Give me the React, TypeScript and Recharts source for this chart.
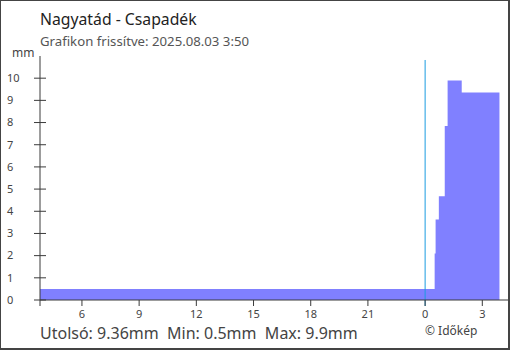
import { Area, AreaChart, ReferenceLine, XAxis, YAxis } from "recharts";

// hours since midnight of the previous day
const times = [3.8, 24.5, 24.55, 24.72, 25.03, 25.18, 25.92, 27.9];
const rain = [0.5, 2.1, 3.63, 4.68, 7.84, 9.9, 9.36, 9.36];
const xTicks = [3.8, 6, 9, 12, 15, 18, 21, 24, 27];
const yTicks = [0, 1, 2, 3, 4, 5, 6, 7, 8, 9, 10];

const data = times.map((t, i) => ({ t, v: rain[i] }));

const font = "'Noto Sans', sans-serif";
const axisColor = "#3a3a3a";

function YTick(props: any) {
  const { x, y, payload } = props;
  return (
    <g>
      <line x1={x - 6} x2={x + 6} y1={y} y2={y} stroke={axisColor} />
      <text x={x - 33} y={y} dy="0.35em" fontSize={11} fill="#444" fontFamily={font}>
        {payload.value}
      </text>
    </g>
  );
}

export default function App() {
  return (
    <div
      style={{
        position: "absolute",
        left: 0,
        top: 0,
        width: 510,
        height: 350,
        boxSizing: "border-box",
        borderTop: "1px solid #444",
        borderLeft: "1px solid #444",
        borderRight: "2px solid #444",
        borderBottom: "2px solid #444",
        background: "#fff",
        fontFamily: font,
        overflow: "hidden",
      }}
    >
      <div style={{ position: "absolute", left: 39, top: 7, fontSize: 15.75, color: "#222" }}>
        Nagyatád - Csapadék
      </div>
      <div style={{ position: "absolute", left: 39, top: 31, fontSize: 13.2, color: "#555" }}>
        Grafikon frissítve: 2025.08.03 3:50
      </div>
      <div style={{ position: "absolute", left: 11, top: 43, fontSize: 12, color: "#444" }}>mm</div>
      <div style={{ position: "absolute", left: -1, top: -1 }}>
        <AreaChart width={510} height={350} data={data} margin={{ top: 56, right: 1, bottom: 20, left: 0 }}>
          <XAxis
            dataKey="t"
            type="number"
            domain={[3.8, 28.4]}
            ticks={xTicks}
            interval={0}
            height={30}
            tickSize={6}
            tickMargin={4}
            stroke={axisColor}
            tick={{ fontSize: 11, fill: "#444", fontFamily: font }}
            tickFormatter={(v: number) => (v === 3.8 ? "" : String(v % 24))}
          />
          <YAxis
            type="number"
            domain={[0, 11]}
            ticks={yTicks}
            interval={0}
            width={40}
            tickSize={0}
            tickMargin={0}
            tickLine={false}
            stroke={axisColor}
            tick={<YTick />}
          />
          <Area
            dataKey="v"
            type="stepAfter"
            fill="#8080ff"
            fillOpacity={1}
            stroke="none"
            isAnimationActive={false}
          />
          <ReferenceLine
            segment={[
              { x: 24, y: 10.82 },
              { x: 24, y: -0.27 },
            ]}
            ifOverflow="visible"
            stroke="#1a9be0"
            strokeWidth={1}
          />
        </AreaChart>
      </div>
      <div style={{ position: "absolute", left: 39, top: 321, fontSize: 16, color: "#444", whiteSpace: "pre" }}>
        {"Utolsó: 9.36mm  Min: 0.5mm  Max: 9.9mm"}
      </div>
      <div style={{ position: "absolute", left: 424, top: 321, fontSize: 12, color: "#444" }}>© Időkép</div>
    </div>
  );
}
